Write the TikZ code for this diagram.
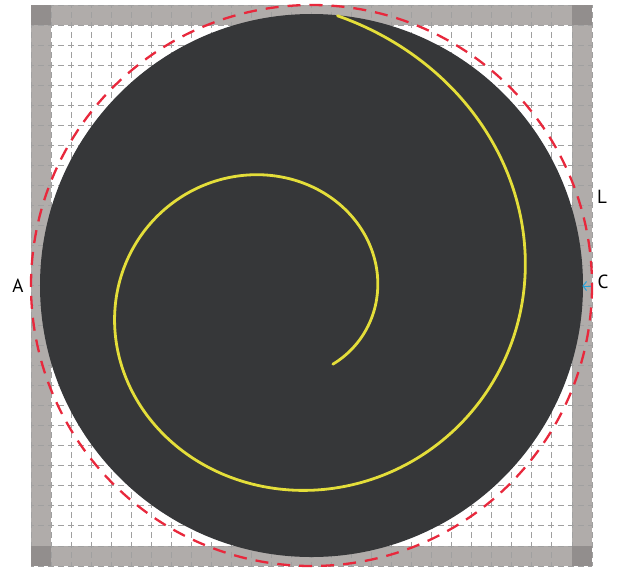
\documentclass[tikz,border=0pt]{standalone}
\usepackage{fontspec}
\setmainfont{PT Sans}
\definecolor{bordergray}{RGB}{176,172,170}
\definecolor{cornergray}{RGB}{146,142,141}
\definecolor{gridgray}{RGB}{160,160,160}
\definecolor{diskdark}{RGB}{54,55,57}
\definecolor{redline}{RGB}{232,40,60}
\definecolor{yellowline}{RGB}{228,222,58}
\definecolor{bluemark}{RGB}{40,160,216}
\tikzset{
  gridline/.style={draw=gridgray, line width=0.9pt, dash pattern=on 6pt off 4pt, dash phase=3pt},
  redcircle/.style={draw=redline, line width=2.3pt, dash pattern=on 13pt off 9pt},
  spiralline/.style={draw=yellowline, line width=2.8pt, line cap=round},
  lab/.style={font=\fontsize{19}{19}\selectfont, text=black, inner sep=0pt},
}
\begin{document}
\begin{tikzpicture}[x=1pt,y=-1pt]
\useasboundingbox (0,0) rectangle (620,571);
\fill[white] (0,0) rectangle (620,571);
% frame
\fill[bordergray] (31,5) rectangle (592,566);
\fill[white] (51.04,25.04) rectangle (571.96,545.96);
% grid
\foreach \i in {0,...,28}{
  \draw[gridline] ({31+20.036*\i},5) -- ({31+20.036*\i},566);
  \draw[gridline] (31,{5+20.036*\i}) -- (592,{5+20.036*\i});
}
% corners
\fill[cornergray] (31,5) rectangle (51.04,25.04);
\fill[cornergray] (571.96,5) rectangle (592,25.04);
\fill[cornergray] (31,545.96) rectangle (51.04,566);
\fill[cornergray] (571.96,545.96) rectangle (592,566);
% disk
\coordinate (O) at (311.5,285.5);
\fill[diskdark] (O) circle[radius=271.5];
\draw[redcircle] (O) circle[radius=280.5];
% spiral (logarithmic)
\draw[spiralline] plot[variable=\t, domain=-50:438, samples=240, smooth]
  ({275+101.8*exp(0.0024662*\t)*cos(\t)}, {298-0.96*101.8*exp(0.0024662*\t)*sin(\t)});
% blue mark
\coordinate (Cm) at (583,286);
\coordinate (Ce) at (591,286);
\draw[bluemark, line width=1pt] (Ce) -- (Cm);
\draw[bluemark, line width=1pt] (586.5,281.5) -- (583,286) -- (586.5,290.5);
% labels
\node[lab] (A) at (18,286) {A};
\node[lab] (L) at (602,197) {L};
\node[lab] (C) at (603,282) {C};
\end{tikzpicture}
\end{document}
